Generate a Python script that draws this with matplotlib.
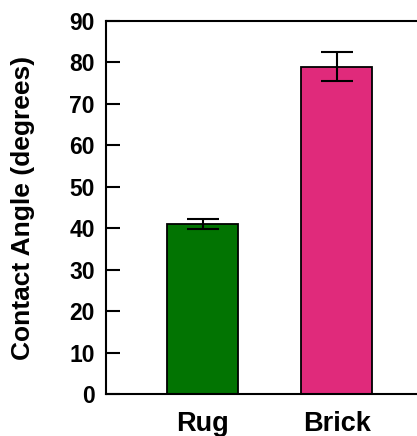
import matplotlib
matplotlib.use("Agg")
import matplotlib.pyplot as plt

# Contact angle measurements per surface
surfaces = ["Rug", "Brick"]
angles = [41.0, 79.0]
errors = [1.2, 3.4]
colors = ["#027402", "#E02A7B"]
yticks = [0, 10, 20, 30, 40, 50, 60, 70, 80, 90]

plt.rcParams["font.family"] = ["Liberation Sans", "DejaVu Sans"]
plt.rcParams["font.weight"] = "bold"

fig = plt.figure(figsize=(4.17, 4.36), dpi=100)
ax = fig.add_axes([106 / 417, 42 / 436, 1 - 106 / 417, (394 - 21) / 436])

x = list(range(len(surfaces)))
ax.bar(x, angles, width=0.53, color=colors, edgecolor="black", linewidth=1.3,
       zorder=2)
ax.errorbar(x, angles, yerr=errors, fmt="none", ecolor="black",
            elinewidth=1.5, capsize=11.2, capthick=1.5, zorder=3)

ax.set_xlim(-0.72, 1.60)
ax.set_ylim(0, 90)
ax.set_yticks(yticks)
ax.set_yticklabels([str(v) for v in yticks])
ax.set_xticks(x)
ax.set_xticklabels(surfaces)

for side in ("top", "bottom", "left"):
    ax.spines[side].set_linewidth(1.5)
ax.spines["right"].set_visible(False)

ax.tick_params(axis="y", direction="in", length=10, width=1.5, pad=8,
               labelsize=16.5, right=False)
ax.tick_params(axis="x", length=0, pad=12.5, labelsize=19.5)
for lbl in ax.get_xticklabels() + ax.get_yticklabels():
    lbl.set_fontweight("bold")

ax.set_ylabel("Contact Angle (degrees)", fontsize=19, fontweight="bold")
ax.yaxis.set_label_coords(-0.228, 0.5)

fig.savefig("out.png", dpi=100)
